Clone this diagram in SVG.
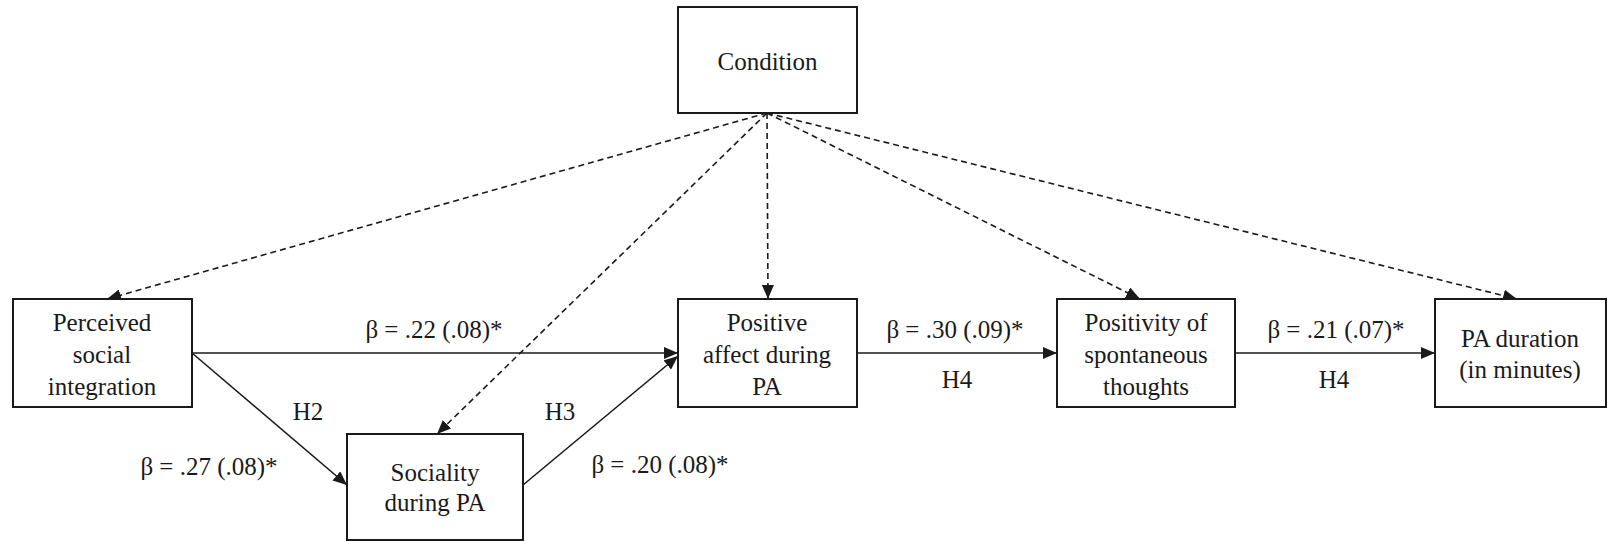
<svg xmlns="http://www.w3.org/2000/svg" width="1608" height="541" viewBox="0 0 1608 541">
<defs>
<marker id="ah" markerUnits="userSpaceOnUse" markerWidth="15" markerHeight="12" refX="14" refY="6" orient="auto">
<path d="M0,0 L14,6 L0,12 z" fill="#1a1a1a"/>
</marker>
</defs>
<rect width="1608" height="541" fill="#fff"/>
<g id="connectors">
<g fill="none" stroke="#1a1a1a" stroke-width="1.6" stroke-dasharray="6 4">
<line x1="767" y1="113" x2="107" y2="299" marker-end="url(#ah)"/>
<line x1="767" y1="113" x2="437" y2="434" marker-end="url(#ah)"/>
<line x1="767" y1="113" x2="768" y2="299" marker-end="url(#ah)"/>
<line x1="767" y1="113" x2="1140" y2="299" marker-end="url(#ah)"/>
<line x1="767" y1="113" x2="1517" y2="299" marker-end="url(#ah)"/>
</g>
<g fill="none" stroke="#1a1a1a" stroke-width="1.6">
<line x1="192" y1="353" x2="678" y2="353" marker-end="url(#ah)"/>
<line x1="192" y1="353" x2="347" y2="485" marker-end="url(#ah)"/>
<line x1="523" y1="485" x2="678" y2="356" marker-end="url(#ah)"/>
<line x1="857" y1="353" x2="1057" y2="353" marker-end="url(#ah)"/>
<line x1="1235" y1="353" x2="1435" y2="353" marker-end="url(#ah)"/>
</g>
<g font-family="Liberation Serif" font-size="25" fill="#1a1a1a" text-anchor="middle">
<text x="434" y="338" style="font-family:'Liberation Serif'">β = .22 (.08)*</text>
<text x="308" y="420" style="font-family:'Liberation Serif'">H2</text>
<text x="209" y="475" style="font-family:'Liberation Serif'">β = .27 (.08)*</text>
<text x="560" y="420" style="font-family:'Liberation Serif'">H3</text>
<text x="660" y="473" style="font-family:'Liberation Serif'">β = .20 (.08)*</text>
<text x="955" y="338" style="font-family:'Liberation Serif'">β = .30 (.09)*</text>
<text x="957" y="388" style="font-family:'Liberation Serif'">H4</text>
<text x="1336" y="338" style="font-family:'Liberation Serif'">β = .21 (.07)*</text>
<text x="1334" y="388" style="font-family:'Liberation Serif'">H4</text>
</g>
</g>
<g fill="#fff" stroke="#1a1a1a" stroke-width="2">
<rect id="condition-box" x="678" y="7" width="179" height="106"/>
<rect id="perceived-box" x="13" y="299" width="179" height="108"/>
<rect id="sociality-box" x="347" y="434" width="176" height="106"/>
<rect id="positive-box" x="678" y="299" width="179" height="108"/>
<rect id="positivity-box" x="1057" y="299" width="178" height="108"/>
<rect id="duration-box" x="1435" y="299" width="171" height="108"/>
</g>
<g font-family="Liberation Serif" font-size="25" fill="#1a1a1a" text-anchor="middle">
<g id="condition">
<text x="767.5" y="70" style="font-family:'Liberation Serif'">Condition</text>
</g>
<g id="perceived">
<text x="102" y="331" style="font-family:'Liberation Serif'">Perceived</text>
<text x="102" y="363" style="font-family:'Liberation Serif'">social</text>
<text x="102" y="395" style="font-family:'Liberation Serif'">integration</text>
</g>
<g id="sociality">
<text x="435" y="481" style="font-family:'Liberation Serif'">Sociality</text>
<text x="435" y="511" style="font-family:'Liberation Serif'">during PA</text>
</g>
<g id="positive">
<text x="767" y="331" style="font-family:'Liberation Serif'">Positive</text>
<text x="767" y="363" style="font-family:'Liberation Serif'">affect during</text>
<text x="767" y="395" style="font-family:'Liberation Serif'">PA</text>
</g>
<g id="positivity">
<text x="1146" y="331" style="font-family:'Liberation Serif'">Positivity of</text>
<text x="1146" y="363" style="font-family:'Liberation Serif'">spontaneous</text>
<text x="1146" y="395" style="font-family:'Liberation Serif'">thoughts</text>
</g>
<g id="duration">
<text x="1520" y="347" style="font-family:'Liberation Serif'">PA duration</text>
<text x="1520" y="378" style="font-family:'Liberation Serif'">(in minutes)</text>
</g>
</g>
</svg>
